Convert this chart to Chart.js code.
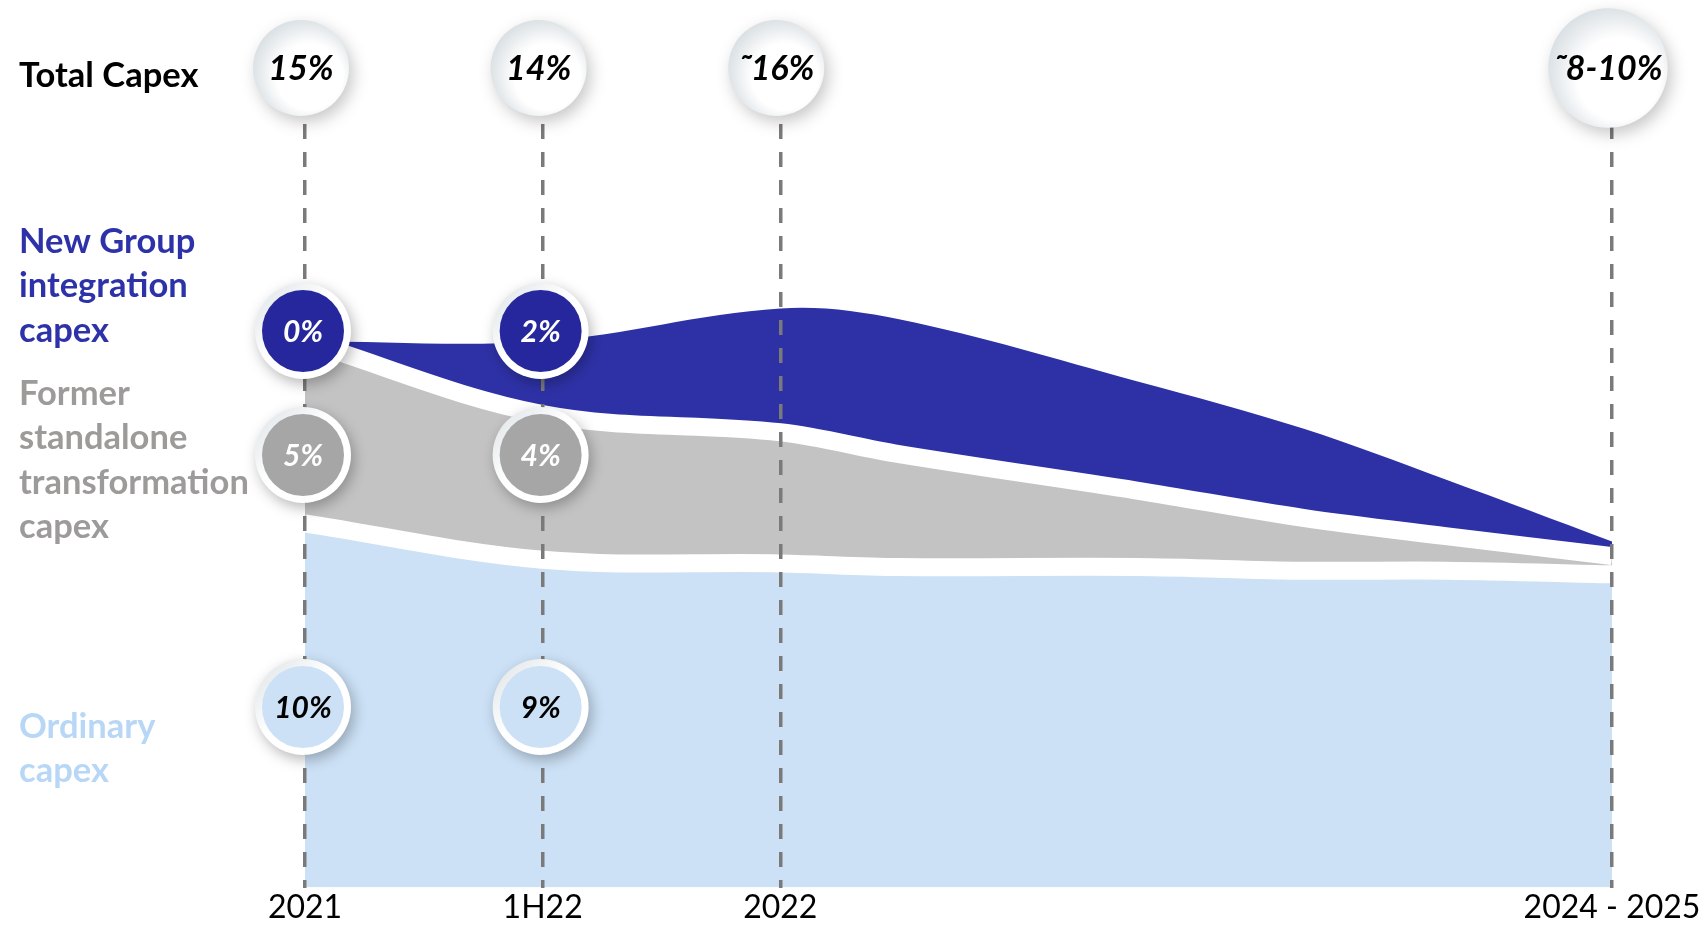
<!DOCTYPE html>
<html>
<head>
<meta charset="utf-8">
<title>Capex</title>
<script src="https://cdn.jsdelivr.net/npm/chart.js@4.4.1/dist/chart.umd.min.js"></script>
<style>
    html, body { margin: 0; padding: 0; background: #ffffff; }
    #wrap { position: relative; width: 1708px; height: 928px; }
</style>
</head>
<body>
<div id="wrap"><canvas id="capexChart"></canvas></div>
<script>
// Perioder på x-axeln (position i halvår från 2021)
const periods = ['2021', '1H22', '2022', '2024 - 2025'];
const periodPos = [0, 1, 2, 5.5];

// Punkter längs kurvorna (samma x för alla serier)
const curveX = [0, 1, 2, 2.5, 3.5, 4.2, 4.8, 5.5];
const ordinaryCapex       = [10, 9, 8.9, 8.8, 8.8, 8.7, 8.7, 8.6];
const transformationCapex = [5, 4, 3.6, 3.1, 2.1, 1.45, 0.95, 0.5];
const integrationCapex    = [0, 2, 3.4, 3.7, 3.0, 2.45, 1.55, 0.4];

// Total capex per period
const totalCapex = ['15%', '14%', '˜16%', '˜8-10%'];

// Radrubriker till vänster
const titleTotal = ['Total Capex'];
const titleIntegration = ['New Group', 'integration', 'capex'];
const titleTransformation = ['Former', 'standalone', 'transformation', 'capex'];
const titleOrdinary = ['Ordinary', 'capex'];

function toPoints(values) {
    return values.map((v, i) => ({ x: curveX[i], y: v }));
}

function plainBubble(ctx, cx, cy, text) {
    ctx.font = 'italic bold 34px Lato';
    const r = Math.max(48, ctx.measureText(text).width / 2 + 5);
    ctx.save();
    ctx.shadowColor = 'rgba(0, 0, 0, 0.22)';
    ctx.shadowBlur = 16;
    ctx.shadowOffsetX = 4;
    ctx.shadowOffsetY = 6;
    const g = ctx.createRadialGradient(cx + r * 0.3, cy + r * 0.3, 0, cx + r * 0.1, cy + r * 0.1, r * 1.15);
    g.addColorStop(0, '#ffffff');
    g.addColorStop(0.6, '#ffffff');
    g.addColorStop(1, '#d9dfe3');
    ctx.fillStyle = g;
    ctx.beginPath();
    ctx.arc(cx, cy, r, 0, Math.PI * 2);
    ctx.fill();
    ctx.restore();
    ctx.fillStyle = '#000000';
    ctx.textAlign = 'center';
    ctx.textBaseline = 'middle';
    ctx.fillText(text, cx, cy + 1);
}

function ringBubble(ctx, cx, cy, text, fill, textColor) {
    ctx.save();
    ctx.shadowColor = 'rgba(0, 0, 0, 0.28)';
    ctx.shadowBlur = 14;
    ctx.shadowOffsetX = 3;
    ctx.shadowOffsetY = 5;
    const g = ctx.createLinearGradient(cx - 48, cy - 48, cx + 48, cy + 48);
    g.addColorStop(0, '#dce2e5');
    g.addColorStop(0.45, '#ffffff');
    g.addColorStop(1, '#ffffff');
    ctx.fillStyle = g;
    ctx.beginPath();
    ctx.arc(cx, cy, 48, 0, Math.PI * 2);
    ctx.fill();
    ctx.restore();
    ctx.fillStyle = fill;
    ctx.beginPath();
    ctx.arc(cx, cy, 41, 0, Math.PI * 2);
    ctx.fill();
    ctx.font = 'italic bold 30px Lato';
    ctx.fillStyle = textColor;
    ctx.textAlign = 'center';
    ctx.textBaseline = 'middle';
    ctx.fillText(text, cx, cy + 1);
}

// Rubriker och bubblor ritas ovanpå diagrammet
const bubbleLabels = {
    id: 'bubbleLabels',
    afterDraw(chart) {
        const { ctx, chartArea, scales } = chart;
        const x = scales.x;
        ctx.save();

        const titles = [
            { lines: titleTotal, color: '#000000', y: 87 },
            { lines: titleIntegration, color: '#2e32a8', y: 253 },
            { lines: titleTransformation, color: '#9d9a9a', y: 405 },
            { lines: titleOrdinary, color: '#b8d7f6', y: 738 }
        ];
        ctx.font = 'bold 34.5px Lato';
        ctx.textAlign = 'left';
        ctx.textBaseline = 'alphabetic';
        titles.forEach(t => {
            ctx.fillStyle = t.color;
            t.lines.forEach((line, i) => ctx.fillText(line, 19, t.y + i * 44.3));
        });

        totalCapex.forEach((label, i) => {
            plainBubble(ctx, x.getPixelForValue(periodPos[i]) - 4, chartArea.top, label);
        });

        const rows = [
            { values: integrationCapex, y: 331, fill: '#26279c', text: '#ffffff' },
            { values: transformationCapex, y: 455, fill: '#a6a6a6', text: '#ffffff' },
            { values: ordinaryCapex, y: 707, fill: '#cce1f6', text: '#000000' }
        ];
        rows.forEach(row => {
            [0, 1].forEach(i => {
                ringBubble(ctx, x.getPixelForValue(curveX[i]) - 2, row.y, row.values[i] + '%', row.fill, row.text);
            });
        });

        ctx.restore();
    }
};

const ctx = document.getElementById('capexChart').getContext('2d');

new Chart(ctx, {
    type: 'line',
    data: {
        datasets: [
            {
                label: 'Ordinary capex',
                data: toPoints(ordinaryCapex),
                backgroundColor: '#cce1f6',
                borderColor: '#ffffff',
                borderWidth: 18,
                fill: 'origin'
            },
            {
                label: 'Former standalone transformation capex',
                data: toPoints(transformationCapex),
                backgroundColor: '#c3c3c3',
                borderColor: '#ffffff',
                borderWidth: 18,
                fill: '-1'
            },
            {
                label: 'New Group integration capex',
                data: toPoints(integrationCapex),
                backgroundColor: '#2e31a6',
                borderColor: 'rgba(0, 0, 0, 0)',
                borderWidth: 1,
                fill: '-1'
            }
        ]
    },
    options: {
        responsive: true,
        maintainAspectRatio: false,
        animation: false,
        layout: {
            padding: { left: 305, right: 96, top: 68, bottom: 0 }
        },
        elements: {
            line: { tension: 0.35 },
            point: { radius: 0, hoverRadius: 0 }
        },
        plugins: {
            legend: { display: false },
            tooltip: { enabled: false }
        },
        scales: {
            x: {
                type: 'linear',
                min: 0,
                max: 5.5,
                afterBuildTicks: axis => {
                    axis.ticks = periodPos.map(v => ({ value: v }));
                },
                ticks: {
                    autoSkip: false,
                    maxRotation: 0,
                    padding: 1,
                    color: '#000000',
                    font: { family: 'Lato', size: 32 },
                    callback: value => periods[periodPos.indexOf(value)]
                },
                grid: {
                    color: '#7a7a7a',
                    lineWidth: 3.5,
                    drawTicks: false,
                    z: 1
                },
                border: { display: false, dash: [15, 13] }
            },
            y: {
                display: false,
                stacked: true,
                min: 0,
                max: 22.5
            }
        }
    },
    plugins: [bubbleLabels]
});
</script>
</body>
</html>
